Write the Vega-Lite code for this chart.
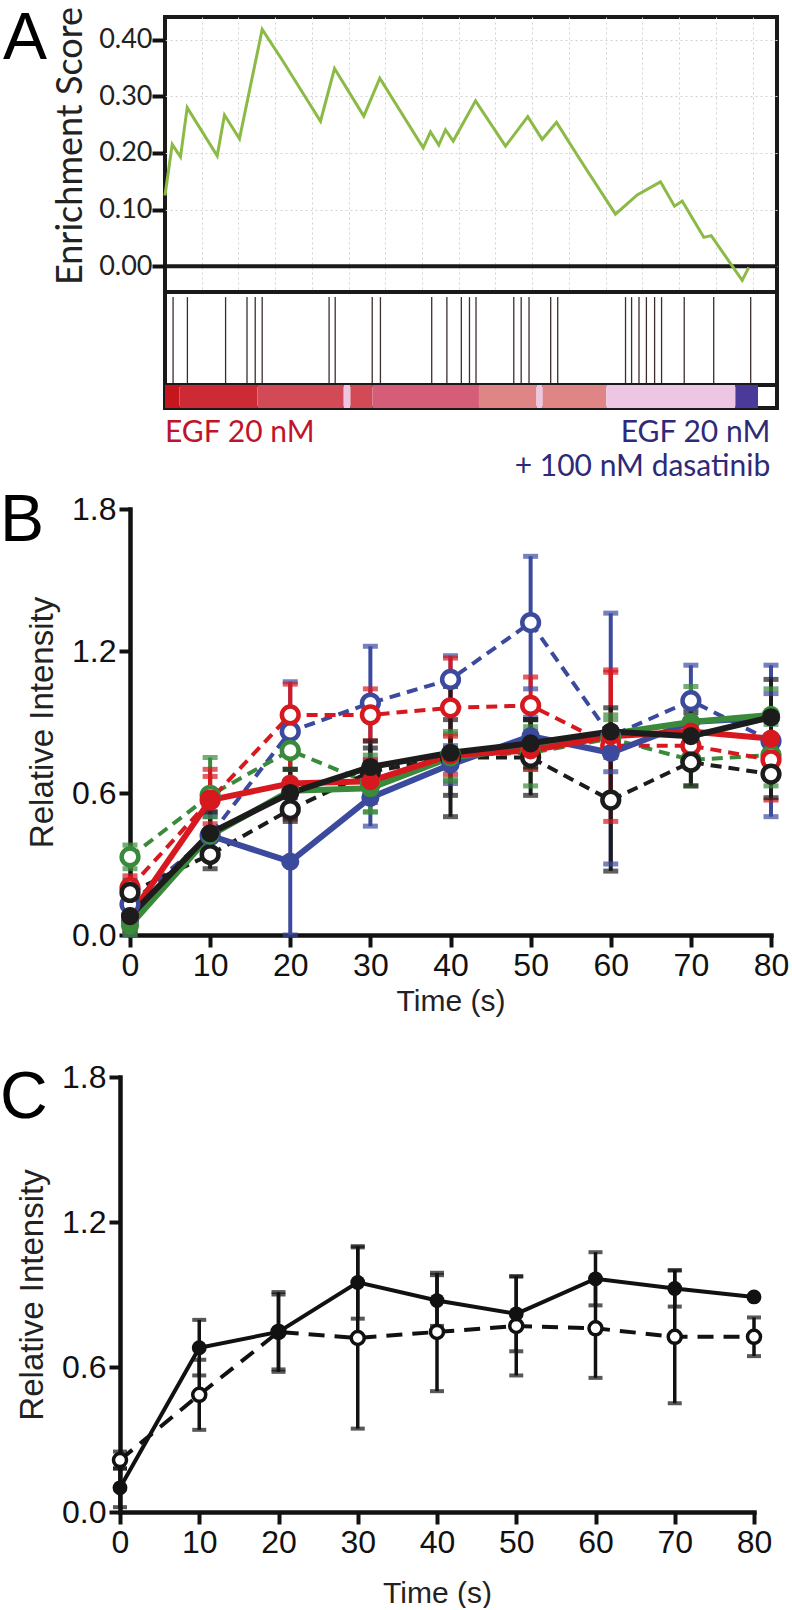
{
"$schema": "https://vega.github.io/schema/vega-lite/v6.json",
"background": "white",
"padding": {"left": 0, "top": 4, "right": 0, "bottom": 0},
"bounds": "flush",
"spacing": 0,
"config": {
  "view": {"stroke": "#1a1a1a", "strokeWidth": 4},
  "axis": {"labelFont": "Liberation Sans, Arial, Helvetica, sans-serif", "titleFont": "Liberation Sans, Arial, Helvetica, sans-serif", "labelColor": "#111", "titleColor": "#222", "titleFontWeight": "normal", "domainColor": "#111", "tickColor": "#111", "grid": false, "labelFlush": false, "labelOverlap": false},
  "text": {"font": "Liberation Sans, Arial, sans-serif"}
},
"datasets": {
  "es": [
    {"rank": 0, "es": 0.125}, {"rank": 1.18, "es": 0.215}, {"rank": 2.53, "es": 0.193}, {"rank": 3.63, "es": 0.28},
    {"rank": 8.53, "es": 0.195}, {"rank": 9.72, "es": 0.267}, {"rank": 12.17, "es": 0.225}, {"rank": 15.88, "es": 0.418},
    {"rank": 19.15, "es": 0.364}, {"rank": 25.41, "es": 0.256}, {"rank": 27.7, "es": 0.349}, {"rank": 32.48, "es": 0.265},
    {"rank": 35.1, "es": 0.332}, {"rank": 42.19, "es": 0.209}, {"rank": 43.38, "es": 0.237}, {"rank": 44.74, "es": 0.214},
    {"rank": 45.83, "es": 0.241}, {"rank": 47.09, "es": 0.221}, {"rank": 50.74, "es": 0.292}, {"rank": 55.64, "es": 0.212},
    {"rank": 59.28, "es": 0.264}, {"rank": 61.63, "es": 0.224}, {"rank": 63.97, "es": 0.254}, {"rank": 67.89, "es": 0.187},
    {"rank": 73.61, "es": 0.092}, {"rank": 77.16, "es": 0.126}, {"rank": 80.96, "es": 0.149}, {"rank": 83.25, "es": 0.106},
    {"rank": 84.51, "es": 0.115}, {"rank": 88.04, "es": 0.051}, {"rank": 89.25, "es": 0.054}, {"rank": 94.31, "es": -0.025},
    {"rank": 95.39, "es": -0.002}
  ],
  "hits": [
    {"rank": 1.32}, {"rank": 3.66}, {"rank": 9.9}, {"rank": 13.4}, {"rank": 14.74}, {"rank": 15.88}, {"rank": 26.81}, {"rank": 27.81},
    {"rank": 33.86}, {"rank": 35.2}, {"rank": 43.58}, {"rank": 46.06}, {"rank": 48.42}, {"rank": 49.75}, {"rank": 50.82},
    {"rank": 56.99}, {"rank": 58.2}, {"rank": 59.48}, {"rank": 63.02}, {"rank": 64.17}, {"rank": 75.25}, {"rank": 76.24},
    {"rank": 77.45}, {"rank": 78.66}, {"rank": 80.0}, {"rank": 81.14}, {"rank": 84.84}, {"rank": 89.66}, {"rank": 95.7}
  ],
  "bar": [
    {"start": 0, "end": 2.35, "metric": 1.0},
    {"start": 2.35, "end": 15.1, "metric": 0.9},
    {"start": 15.1, "end": 29.2, "metric": 0.75},
    {"start": 29.2, "end": 30.3, "metric": 0.1},
    {"start": 30.3, "end": 33.9, "metric": 0.75},
    {"start": 33.9, "end": 51.3, "metric": 0.6},
    {"start": 51.3, "end": 60.7, "metric": 0.4},
    {"start": 60.7, "end": 61.7, "metric": 0.1},
    {"start": 61.7, "end": 72.1, "metric": 0.4},
    {"start": 72.1, "end": 93.2, "metric": 0.1},
    {"start": 93.2, "end": 96.9, "metric": -1.0}
  ],
  "b": [
    {"set": "blue", "cond": "filled", "time": 0, "mean": 0.06, "lo": 0.0, "hi": 0.12},
    {"set": "blue", "cond": "filled", "time": 10, "mean": 0.42, "lo": 0.34, "hi": 0.5},
    {"set": "blue", "cond": "filled", "time": 20, "mean": 0.31, "lo": 0.0, "hi": 0.62},
    {"set": "blue", "cond": "filled", "time": 30, "mean": 0.58, "lo": 0.46, "hi": 0.7},
    {"set": "blue", "cond": "filled", "time": 40, "mean": 0.72, "lo": 0.64, "hi": 0.8},
    {"set": "blue", "cond": "filled", "time": 50, "mean": 0.84, "lo": 0.76, "hi": 0.92},
    {"set": "blue", "cond": "filled", "time": 60, "mean": 0.77, "lo": 0.69, "hi": 0.85},
    {"set": "blue", "cond": "filled", "time": 70, "mean": 0.9, "lo": 0.84, "hi": 0.96},
    {"set": "blue", "cond": "filled", "time": 80, "mean": 0.92, "lo": 0.82, "hi": 1.02},
    {"set": "blue", "cond": "open", "time": 0, "mean": 0.13, "lo": 0.06, "hi": 0.2},
    {"set": "blue", "cond": "open", "time": 10, "mean": 0.42, "lo": 0.32, "hi": 0.52},
    {"set": "blue", "cond": "open", "time": 20, "mean": 0.86, "lo": 0.65, "hi": 1.07},
    {"set": "blue", "cond": "open", "time": 30, "mean": 0.98, "lo": 0.74, "hi": 1.22},
    {"set": "blue", "cond": "open", "time": 40, "mean": 1.08, "lo": 0.98, "hi": 1.18},
    {"set": "blue", "cond": "open", "time": 50, "mean": 1.32, "lo": 1.04, "hi": 1.6},
    {"set": "blue", "cond": "open", "time": 60, "mean": 0.84, "lo": 0.3, "hi": 1.36},
    {"set": "blue", "cond": "open", "time": 70, "mean": 0.99, "lo": 0.84, "hi": 1.14},
    {"set": "blue", "cond": "open", "time": 80, "mean": 0.82, "lo": 0.5, "hi": 1.14},
    {"set": "green", "cond": "filled", "time": 0, "mean": 0.04, "lo": 0.0, "hi": 0.08},
    {"set": "green", "cond": "filled", "time": 10, "mean": 0.42, "lo": 0.34, "hi": 0.5},
    {"set": "green", "cond": "filled", "time": 20, "mean": 0.61, "lo": 0.52, "hi": 0.7},
    {"set": "green", "cond": "filled", "time": 30, "mean": 0.62, "lo": 0.52, "hi": 0.72},
    {"set": "green", "cond": "filled", "time": 40, "mean": 0.75, "lo": 0.65, "hi": 0.85},
    {"set": "green", "cond": "filled", "time": 50, "mean": 0.79, "lo": 0.7, "hi": 0.88},
    {"set": "green", "cond": "filled", "time": 60, "mean": 0.85, "lo": 0.77, "hi": 0.93},
    {"set": "green", "cond": "filled", "time": 70, "mean": 0.9, "lo": 0.76, "hi": 1.05},
    {"set": "green", "cond": "filled", "time": 80, "mean": 0.93, "lo": 0.82, "hi": 1.04},
    {"set": "green", "cond": "open", "time": 0, "mean": 0.33, "lo": 0.28, "hi": 0.38},
    {"set": "green", "cond": "open", "time": 10, "mean": 0.59, "lo": 0.44, "hi": 0.75},
    {"set": "green", "cond": "open", "time": 20, "mean": 0.78, "lo": 0.7, "hi": 0.86},
    {"set": "green", "cond": "open", "time": 30, "mean": 0.64, "lo": 0.52, "hi": 0.76},
    {"set": "green", "cond": "open", "time": 40, "mean": 0.76, "lo": 0.66, "hi": 0.86},
    {"set": "green", "cond": "open", "time": 50, "mean": 0.77, "lo": 0.63, "hi": 0.91},
    {"set": "green", "cond": "open", "time": 60, "mean": 0.83, "lo": 0.75, "hi": 0.91},
    {"set": "green", "cond": "open", "time": 70, "mean": 0.74, "lo": 0.63, "hi": 0.85},
    {"set": "green", "cond": "open", "time": 80, "mean": 0.76, "lo": 0.63, "hi": 0.89},
    {"set": "red", "cond": "filled", "time": 0, "mean": 0.08, "lo": 0.02, "hi": 0.14},
    {"set": "red", "cond": "filled", "time": 10, "mean": 0.57, "lo": 0.47, "hi": 0.67},
    {"set": "red", "cond": "filled", "time": 20, "mean": 0.64, "lo": 0.49, "hi": 0.79},
    {"set": "red", "cond": "filled", "time": 30, "mean": 0.65, "lo": 0.56, "hi": 0.74},
    {"set": "red", "cond": "filled", "time": 40, "mean": 0.76, "lo": 0.68, "hi": 0.84},
    {"set": "red", "cond": "filled", "time": 50, "mean": 0.78, "lo": 0.7, "hi": 0.86},
    {"set": "red", "cond": "filled", "time": 60, "mean": 0.84, "lo": 0.57, "hi": 1.11},
    {"set": "red", "cond": "filled", "time": 70, "mean": 0.86, "lo": 0.81, "hi": 0.91},
    {"set": "red", "cond": "filled", "time": 80, "mean": 0.83, "lo": 0.74, "hi": 0.92},
    {"set": "red", "cond": "open", "time": 0, "mean": 0.2, "lo": 0.15, "hi": 0.25},
    {"set": "red", "cond": "open", "time": 10, "mean": 0.57, "lo": 0.44, "hi": 0.7},
    {"set": "red", "cond": "open", "time": 20, "mean": 0.93, "lo": 0.8, "hi": 1.06},
    {"set": "red", "cond": "open", "time": 30, "mean": 0.93, "lo": 0.82, "hi": 1.04},
    {"set": "red", "cond": "open", "time": 40, "mean": 0.96, "lo": 0.76, "hi": 1.17},
    {"set": "red", "cond": "open", "time": 50, "mean": 0.97, "lo": 0.85, "hi": 1.09},
    {"set": "red", "cond": "open", "time": 60, "mean": 0.8, "lo": 0.48, "hi": 1.12},
    {"set": "red", "cond": "open", "time": 70, "mean": 0.8, "lo": 0.72, "hi": 0.88},
    {"set": "red", "cond": "open", "time": 80, "mean": 0.74, "lo": 0.57, "hi": 0.91},
    {"set": "black", "cond": "filled", "time": 0, "mean": 0.08, "lo": 0.02, "hi": 0.14},
    {"set": "black", "cond": "filled", "time": 10, "mean": 0.43, "lo": 0.34, "hi": 0.52},
    {"set": "black", "cond": "filled", "time": 20, "mean": 0.6, "lo": 0.5, "hi": 0.7},
    {"set": "black", "cond": "filled", "time": 30, "mean": 0.71, "lo": 0.6, "hi": 0.82},
    {"set": "black", "cond": "filled", "time": 40, "mean": 0.77, "lo": 0.5, "hi": 1.05},
    {"set": "black", "cond": "filled", "time": 50, "mean": 0.81, "lo": 0.71, "hi": 0.91},
    {"set": "black", "cond": "filled", "time": 60, "mean": 0.86, "lo": 0.76, "hi": 0.96},
    {"set": "black", "cond": "filled", "time": 70, "mean": 0.84, "lo": 0.74, "hi": 0.94},
    {"set": "black", "cond": "filled", "time": 80, "mean": 0.92, "lo": 0.76, "hi": 1.08},
    {"set": "black", "cond": "open", "time": 0, "mean": 0.18, "lo": 0.13, "hi": 0.23},
    {"set": "black", "cond": "open", "time": 10, "mean": 0.34, "lo": 0.28, "hi": 0.4},
    {"set": "black", "cond": "open", "time": 20, "mean": 0.53, "lo": 0.48, "hi": 0.58},
    {"set": "black", "cond": "open", "time": 30, "mean": 0.69, "lo": 0.59, "hi": 0.79},
    {"set": "black", "cond": "open", "time": 40, "mean": 0.75, "lo": 0.59, "hi": 0.91},
    {"set": "black", "cond": "open", "time": 50, "mean": 0.75, "lo": 0.59, "hi": 0.91},
    {"set": "black", "cond": "open", "time": 60, "mean": 0.57, "lo": 0.27, "hi": 0.87},
    {"set": "black", "cond": "open", "time": 70, "mean": 0.73, "lo": 0.63, "hi": 0.83},
    {"set": "black", "cond": "open", "time": 80, "mean": 0.68, "lo": 0.58, "hi": 0.78}
  ],
  "c": [
    {"cond": "open", "time": 0, "mean": 0.215, "lo": 0.18, "hi": 0.25},
    {"cond": "open", "time": 10, "mean": 0.485, "lo": 0.34, "hi": 0.63},
    {"cond": "open", "time": 20, "mean": 0.745, "lo": 0.58, "hi": 0.91},
    {"cond": "open", "time": 30, "mean": 0.72, "lo": 0.345, "hi": 1.095},
    {"cond": "open", "time": 40, "mean": 0.745, "lo": 0.5, "hi": 0.99},
    {"cond": "open", "time": 50, "mean": 0.77, "lo": 0.565, "hi": 0.975},
    {"cond": "open", "time": 60, "mean": 0.76, "lo": 0.555, "hi": 0.965},
    {"cond": "open", "time": 70, "mean": 0.725, "lo": 0.45, "hi": 1.0},
    {"cond": "open", "time": 80, "mean": 0.725, "lo": 0.645, "hi": 0.805},
    {"cond": "filled", "time": 0, "mean": 0.1, "lo": 0.02, "hi": 0.18},
    {"cond": "filled", "time": 10, "mean": 0.68, "lo": 0.565, "hi": 0.795},
    {"cond": "filled", "time": 20, "mean": 0.745, "lo": 0.59, "hi": 0.9},
    {"cond": "filled", "time": 30, "mean": 0.95, "lo": 0.8, "hi": 1.1},
    {"cond": "filled", "time": 40, "mean": 0.875, "lo": 0.77, "hi": 0.98},
    {"cond": "filled", "time": 50, "mean": 0.82, "lo": 0.665, "hi": 0.975},
    {"cond": "filled", "time": 60, "mean": 0.965, "lo": 0.855, "hi": 1.075},
    {"cond": "filled", "time": 70, "mean": 0.925, "lo": 0.85, "hi": 1.0},
    {"cond": "filled", "time": 80, "mean": 0.89, "lo": 0.89, "hi": 0.89}
  ]
},
"vconcat": [
  {
    "width": 612, "height": 275,
    "layer": [
      {"data": {"values": [{}]}, "mark": {"type": "rule", "color": "#1a1a1a", "strokeWidth": 4}, "encoding": {"y": {"datum": 0, "type": "quantitative"}}},
      {"data": {"name": "es"}, "mark": {"type": "line", "color": "#8cba47", "strokeWidth": 3},
       "encoding": {
         "x": {"field": "rank", "type": "quantitative", "scale": {"domain": [0, 100], "nice": false, "zero": false},
               "axis": {"values": [6, 12, 18, 24, 30, 36, 42, 48, 54, 60, 66, 72, 78, 84, 90, 96], "grid": true, "gridColor": "#d2d2d2", "gridDash": [2, 3], "gridWidth": 1, "domain": false, "ticks": false, "labels": false, "title": null}},
         "y": {"field": "es", "type": "quantitative", "scale": {"domain": [-0.0455, 0.44], "nice": false, "zero": false},
               "axis": {"values": [0, 0.05, 0.1, 0.15, 0.2, 0.25, 0.3, 0.35, 0.4],
                        "labelExpr": "round(datum.value*100) % 10 == 0 ? format(datum.value, '.2f') : ''",
                        "domain": false, "tickWidth": 4, "tickSize": 13,
                        "tickOpacity": {"condition": {"test": "round(datum.value*100) % 10 == 0", "value": 1}, "value": 0},
                        "labelFont": "Lato, Open Sans, sans-serif", "labelFontSize": 27, "labelColor": "#222", "labelPadding": 0,
                        "grid": true, "gridColor": "#d2d2d2", "gridDash": [2, 3], "gridWidth": 1,
                        "title": "Enrichment Score", "titleFont": "Lato, Open Sans, sans-serif", "titleFontSize": 36, "titleColor": "#222", "titlePadding": 9, "titleY": 128.5}}
       }},
      {"data": {"values": [{}]}, "mark": {"type": "text", "text": "A", "fontSize": 66, "align": "left", "baseline": "alphabetic", "color": "#000"},
       "encoding": {"x": {"datum": -26.47, "type": "quantitative"}, "y": {"datum": 0.365, "type": "quantitative"}}}
    ]
  },
  {
    "width": 612, "height": 93,
    "data": {"name": "hits"},
    "mark": {"type": "rule", "color": "#3d2e2e", "strokeWidth": 1.3},
    "encoding": {
      "x": {"field": "rank", "type": "quantitative", "scale": {"domain": [0, 100], "nice": false, "zero": false}, "axis": null},
      "y": {"datum": 0.02, "type": "quantitative", "scale": {"domain": [0, 1]}, "axis": null},
      "y2": {"datum": 0.945}
    }
  },
  {
    "width": 612, "height": 23,
    "layer": [
      {"data": {"name": "bar"}, "mark": {"type": "rect"},
       "encoding": {
         "x": {"field": "start", "type": "quantitative", "scale": {"domain": [0, 100], "nice": false, "zero": false}, "axis": null},
         "x2": {"field": "end"},
         "y": {"datum": 0, "type": "quantitative", "scale": {"domain": [0, 1]}, "axis": null},
         "y2": {"datum": 1},
         "color": {"field": "metric", "type": "quantitative", "legend": null,
                   "scale": {"domain": [-1, 0.1, 0.4, 0.6, 0.75, 0.9, 1.0], "range": ["#4b3a9a", "#ecc6e2", "#df8585", "#d55d78", "#d14a55", "#cc2a35", "#c4161c"], "interpolate": "rgb"}}
       }},
      {"data": {"values": [{}]}, "mark": {"type": "text", "text": "EGF 20 nM", "font": "Lato, Open Sans, sans-serif", "fontSize": 30, "align": "left", "baseline": "alphabetic", "color": "#c0142a"},
       "encoding": {"x": {"datum": 0, "type": "quantitative"}, "y": {"datum": -1.478, "type": "quantitative"}}},
      {"data": {"values": [{}]}, "mark": {"type": "text", "text": "EGF 20 nM", "font": "Lato, Open Sans, sans-serif", "fontSize": 30, "align": "right", "baseline": "alphabetic", "color": "#2e2a78"},
       "encoding": {"x": {"datum": 98.9, "type": "quantitative"}, "y": {"datum": -1.478, "type": "quantitative"}}},
      {"data": {"values": [{}]}, "mark": {"type": "text", "text": "+ 100 nM dasatinib", "font": "Lato, Open Sans, sans-serif", "fontSize": 30, "align": "right", "baseline": "alphabetic", "color": "#2e2a78"},
       "encoding": {"x": {"datum": 98.9, "type": "quantitative"}, "y": {"datum": -2.957, "type": "quantitative"}}}
    ]
  },
  {"width": 10, "height": 101, "view": {"stroke": null}, "data": {"values": [{}]}, "mark": {"type": "point", "opacity": 0}},
  {
    "width": 612, "height": 426,
    "view": {"stroke": null},
    "data": {"name": "b"},
    "layer": [
      {"mark": {"type": "rule", "strokeWidth": 4},
       "encoding": {
         "x": {"field": "time", "type": "quantitative", "scale": {"domain": [0, 80], "range": [-35, 606], "nice": false, "zero": false},
               "axis": {"values": [0, 10, 20, 30, 40, 50, 60, 70, 80], "format": "d", "domainWidth": 4.5, "domainCap": "square", "tickWidth": 4, "tickSize": 12, "labelFontSize": 32, "labelPadding": 3, "title": "Time (s)", "titleFontSize": 30, "titlePadding": 5}},
         "y": {"field": "lo", "type": "quantitative", "scale": {"domain": [0, 1.8], "nice": false, "zero": false},
               "axis": {"values": [0, 0.6, 1.2, 1.8], "format": ".1f", "offset": 35, "domainWidth": 4.5, "domainCap": "square", "tickWidth": 4, "tickSize": 11, "labelFontSize": 32, "labelPadding": 3, "title": "Relative Intensity", "titleFontSize": 33, "titlePadding": 12}},
         "y2": {"field": "hi"},
         "color": {"field": "set", "type": "nominal", "legend": null, "scale": {"domain": ["blue", "green", "red", "black"], "range": ["#3c4a9e", "#3a8a3c", "#d7181f", "#1c1c1c"]}}
       }},
      {"mark": {"type": "tick", "orient": "horizontal", "size": 15, "thickness": 5},
       "encoding": {"x": {"field": "time", "type": "quantitative"}, "y": {"field": "lo", "type": "quantitative"}, "color": {"field": "set", "type": "nominal"}}},
      {"mark": {"type": "tick", "orient": "horizontal", "size": 15, "thickness": 5},
       "encoding": {"x": {"field": "time", "type": "quantitative"}, "y": {"field": "hi", "type": "quantitative"}, "color": {"field": "set", "type": "nominal"}}},
      {"transform": [{"filter": "datum.cond == 'open'"}],
       "mark": {"type": "line", "strokeWidth": 4, "strokeDash": [11, 7]},
       "encoding": {"x": {"field": "time", "type": "quantitative"}, "y": {"field": "mean", "type": "quantitative"}, "color": {"field": "set", "type": "nominal"}}},
      {"transform": [{"filter": "datum.cond == 'filled'"}],
       "mark": {"type": "line", "strokeWidth": 6},
       "encoding": {"x": {"field": "time", "type": "quantitative"}, "y": {"field": "mean", "type": "quantitative"}, "color": {"field": "set", "type": "nominal"}}},
      {"transform": [{"filter": "datum.cond == 'open'"}],
       "mark": {"type": "point", "filled": false, "fill": "white", "fillOpacity": 1, "opacity": 1, "strokeWidth": 4.5, "size": 280},
       "encoding": {"x": {"field": "time", "type": "quantitative"}, "y": {"field": "mean", "type": "quantitative"}, "color": {"field": "set", "type": "nominal"}}},
      {"transform": [{"filter": "datum.cond == 'filled'"}],
       "mark": {"type": "circle", "size": 330, "opacity": 1},
       "encoding": {"x": {"field": "time", "type": "quantitative"}, "y": {"field": "mean", "type": "quantitative"}, "color": {"field": "set", "type": "nominal"}}},
      {"data": {"values": [{}]}, "mark": {"type": "text", "text": "B", "fontSize": 66, "align": "left", "baseline": "alphabetic", "color": "#000"},
       "encoding": {"x": {"datum": -16.22, "type": "quantitative"}, "y": {"datum": 1.665, "type": "quantitative"}}}
    ]
  },
  {"width": 10, "height": 142, "view": {"stroke": null}, "data": {"values": [{}]}, "mark": {"type": "point", "opacity": 0}},
  {
    "width": 612, "height": 435,
    "view": {"stroke": null},
    "data": {"name": "c"},
    "layer": [
      {"mark": {"type": "rule", "strokeWidth": 3.5, "color": "#111"},
       "encoding": {
         "x": {"field": "time", "type": "quantitative", "scale": {"domain": [0, 80], "range": [-45, 589], "nice": false, "zero": false},
               "axis": {"values": [0, 10, 20, 30, 40, 50, 60, 70, 80], "format": "d", "domainWidth": 4.5, "domainCap": "square", "tickWidth": 4, "tickSize": 12, "labelFontSize": 32, "labelPadding": 3, "title": "Time (s)", "titleFontSize": 30, "titlePadding": 20}},
         "y": {"field": "lo", "type": "quantitative", "scale": {"domain": [0, 1.8], "nice": false, "zero": false},
               "axis": {"values": [0, 0.6, 1.2, 1.8], "format": ".1f", "offset": 45, "domainWidth": 4.5, "domainCap": "square", "tickWidth": 4, "tickSize": 11, "labelFontSize": 32, "labelPadding": 3, "title": "Relative Intensity", "titleFontSize": 33, "titlePadding": 12}},
         "y2": {"field": "hi"}
       }},
      {"mark": {"type": "tick", "orient": "horizontal", "size": 14, "thickness": 4, "color": "#111"},
       "encoding": {"x": {"field": "time", "type": "quantitative"}, "y": {"field": "lo", "type": "quantitative"}}},
      {"mark": {"type": "tick", "orient": "horizontal", "size": 14, "thickness": 4, "color": "#111"},
       "encoding": {"x": {"field": "time", "type": "quantitative"}, "y": {"field": "hi", "type": "quantitative"}}},
      {"transform": [{"filter": "datum.cond == 'open'"}],
       "mark": {"type": "line", "strokeWidth": 4, "strokeDash": [16, 10], "color": "#111"},
       "encoding": {"x": {"field": "time", "type": "quantitative"}, "y": {"field": "mean", "type": "quantitative"}}},
      {"transform": [{"filter": "datum.cond == 'filled'"}],
       "mark": {"type": "line", "strokeWidth": 4, "color": "#111"},
       "encoding": {"x": {"field": "time", "type": "quantitative"}, "y": {"field": "mean", "type": "quantitative"}}},
      {"transform": [{"filter": "datum.cond == 'open'"}],
       "mark": {"type": "point", "filled": false, "fill": "white", "fillOpacity": 1, "opacity": 1, "stroke": "#111", "strokeWidth": 3.5, "size": 170},
       "encoding": {"x": {"field": "time", "type": "quantitative"}, "y": {"field": "mean", "type": "quantitative"}}},
      {"transform": [{"filter": "datum.cond == 'filled'"}],
       "mark": {"type": "circle", "size": 220, "opacity": 1, "color": "#111"},
       "encoding": {"x": {"field": "time", "type": "quantitative"}, "y": {"field": "mean", "type": "quantitative"}}},
      {"data": {"values": [{}]}, "mark": {"type": "text", "text": "C", "fontSize": 66, "align": "left", "baseline": "alphabetic", "color": "#000"},
       "encoding": {"x": {"datum": -15.14, "type": "quantitative"}, "y": {"datum": 1.63, "type": "quantitative"}}}
    ]
  }
]
}
